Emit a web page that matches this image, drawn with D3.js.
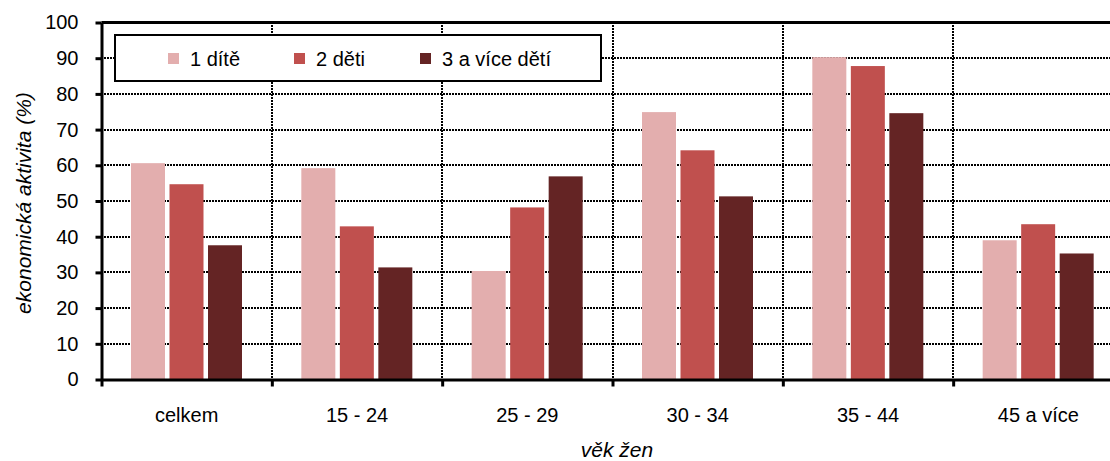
<!DOCTYPE html>
<html>
<head>
<meta charset="utf-8">
<script src="https://cdn.jsdelivr.net/npm/d3@7"></script>
<style>
  body { margin: 0; background: #fff; }
  svg { display: block; font-family: "Liberation Sans", Arial, sans-serif; }
</style>
</head>
<body>
<svg id="chart" width="1110" height="461"></svg>
<script>
// data
const categories = ["celkem", "15 - 24", "25 - 29", "30 - 34", "35 - 44", "45 a více"];
const seriesNames = ["1 dítě", "2 děti", "3 a více dětí"];
const jednoDite = [60.6, 59.2, 30.4, 74.9, 90.3, 39.0];
const dveDeti = [54.7, 42.9, 48.2, 64.2, 87.8, 43.5];
const triDeti = [37.6, 31.4, 56.9, 51.3, 74.6, 35.3];
const yTicks = [0, 10, 20, 30, 40, 50, 60, 70, 80, 90, 100];

const colors = ["#e3aeae", "#c0504e", "#642424"];
const values = [jednoDite, dveDeti, triDeti];

const svg = d3.select("#chart");

// plot area runs past the right edge of the window, like the reference
const plot = { left: 101.5, right: 1123.5, top: 22.5, bottom: 379.5 };

const x0 = d3.scaleBand().domain(categories).range([plot.left, plot.right]).padding(0);
const x1 = d3.scaleBand().domain(seriesNames).range([29.5, 140.5]).paddingInner(0.117).paddingOuter(0);
const xEdge = d3.scaleLinear().domain([0, categories.length]).range([plot.left, plot.right]);
const y = d3.scaleLinear().domain([0, 100]).range([plot.bottom, plot.top]);

const rows = categories.map((c, i) => ({
  cat: c,
  vals: seriesNames.map((s, j) => ({ key: s, value: values[j][i], color: colors[j] }))
}));

// grid (dotted, snapped to whole pixels so the dots stay crisp)
const grid = svg.append("g")
  .attr("stroke", "#000").attr("stroke-width", 2).attr("stroke-dasharray", "2,1")
  .attr("shape-rendering", "crispEdges");
grid.selectAll(".hg")
  .data(yTicks.filter(t => t > 0 && t < 100))
  .enter().append("line")
  .attr("x1", Math.floor(plot.left)).attr("x2", 1110)
  .attr("y1", d => Math.round(y(d))).attr("y2", d => Math.round(y(d)));
grid.selectAll(".vg")
  .data(d3.range(1, categories.length))
  .enter().append("line")
  .attr("x1", d => Math.round(xEdge(d))).attr("x2", d => Math.round(xEdge(d)))
  .attr("y1", Math.floor(plot.top)).attr("y2", Math.round(plot.bottom));

// bars
svg.append("g").selectAll("g")
  .data(rows)
  .enter().append("g")
  .attr("transform", d => `translate(${x0(d.cat)},0)`)
  .selectAll("rect")
  .data(d => d.vals)
  .enter().append("rect")
  .attr("x", d => x1(d.key))
  .attr("width", x1.bandwidth())
  .attr("y", d => y(d.value))
  .attr("height", d => plot.bottom - y(d.value))
  .attr("fill", d => d.color);

// top frame line
svg.append("line")
  .attr("x1", plot.left).attr("x2", 1110)
  .attr("y1", plot.top).attr("y2", plot.top)
  .attr("stroke", "#000").attr("stroke-width", 3);

// y axis
const yAxis = svg.append("g")
  .attr("transform", `translate(${plot.left},0)`)
  .call(d3.axisLeft(y).tickValues(yTicks).tickSize(6).tickSizeOuter(0).tickPadding(17));
yAxis.attr("font-family", null);
yAxis.select(".domain").attr("stroke-width", 3);
yAxis.selectAll(".tick line").attr("stroke-width", 3);
yAxis.selectAll("text").attr("font-size", 20).attr("fill", "#000");

// x axis: edge ticks
const xTicks = svg.append("g")
  .attr("transform", `translate(0,${plot.bottom})`)
  .call(d3.axisBottom(xEdge).tickValues(d3.range(0, categories.length + 1)).tickSize(7).tickSizeOuter(0).tickFormat(""));
xTicks.select(".domain").attr("stroke-width", 3);
xTicks.selectAll(".tick line").attr("stroke-width", 3);

// x axis: labels in band centres
const xLabels = svg.append("g")
  .attr("transform", `translate(0,${plot.bottom})`)
  .call(d3.axisBottom(x0).tickSize(0));
xLabels.attr("font-family", null);
xLabels.select(".domain").remove();
xLabels.selectAll("text")
  .attr("y", 28)
  .attr("font-size", 20).attr("fill", "#000");

// axis titles
svg.append("text")
  .attr("x", 617).attr("y", 457)
  .attr("text-anchor", "middle")
  .attr("font-size", 21).attr("font-style", "italic")
  .text("věk žen");

svg.append("text")
  .attr("transform", "translate(31,203) rotate(-90)")
  .attr("text-anchor", "middle")
  .attr("font-size", 21).attr("font-style", "italic")
  .text("ekonomická aktivita (%)");

// legend
const legend = svg.append("g");
legend.append("rect")
  .attr("x", 115).attr("y", 35)
  .attr("width", 486).attr("height", 46)
  .attr("fill", "#fff").attr("stroke", "#000").attr("stroke-width", 2);
const legendX = [168, 294, 420];
const item = legend.selectAll(".item")
  .data(seriesNames)
  .enter().append("g")
  .attr("transform", (d, i) => `translate(${legendX[i]},0)`);
item.append("rect")
  .attr("x", 0).attr("y", 53).attr("width", 11).attr("height", 11)
  .attr("fill", (d, i) => colors[i]);
item.append("text")
  .attr("x", 22).attr("y", 66)
  .attr("font-size", 20)
  .text(d => d);
</script>
</body>
</html>
